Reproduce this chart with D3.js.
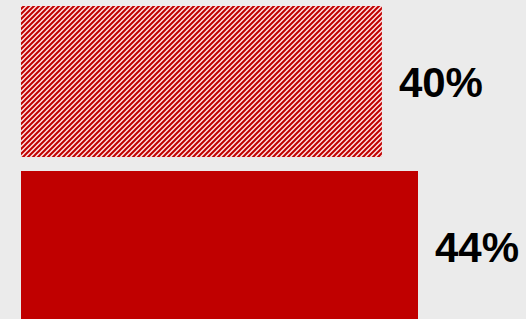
<!DOCTYPE html>
<html>
<head>
<meta charset="utf-8">
<script src="https://cdn.jsdelivr.net/npm/d3@7"></script>
<style>
  html, body { margin: 0; padding: 0; background: #ebebeb; overflow: hidden; }
</style>
</head>
<body>
<script>
const categories = ["before", "after"];
const values = [40, 44];
const labels = ["40%", "44%"];
const hatched = [true, false];

const width = 526, height = 319;

const svg = d3.select("body").append("svg")
    .attr("width", width)
    .attr("height", height);

svg.append("rect")
    .attr("width", width)
    .attr("height", height)
    .attr("fill", "#ebebeb");

// diagonal hatch for the first bar
const pat = svg.append("defs").append("pattern")
    .attr("id", "hatch")
    .attr("patternUnits", "userSpaceOnUse")
    .attr("width", 5)
    .attr("height", 5);
pat.append("rect").attr("width", 5).attr("height", 5).attr("fill", "#fde0e0");
pat.append("path")
    .attr("d", "M-1,1 l2,-2 M0,5 l5,-5 M4,6 l2,-2")
    .attr("stroke", "#c00000")
    .attr("stroke-width", 2);

const x = d3.scaleLinear().domain([0, 44]).range([21, 418]);
const y = d3.scaleBand().domain(categories).range([6, 322]).paddingInner(14 / 165);

const g = svg.append("g");

g.selectAll("rect.bar")
    .data(categories)
    .enter().append("rect")
    .attr("class", "bar")
    .attr("x", x(0))
    .attr("y", d => y(d))
    .attr("width", (d, i) => x(values[i]) - x(0))
    .attr("height", y.bandwidth())
    .attr("fill", (d, i) => hatched[i] ? "url(#hatch)" : "#c00000");

g.selectAll("text.lbl")
    .data(categories)
    .enter().append("text")
    .attr("class", "lbl")
    .attr("x", (d, i) => x(values[i]) + 17)
    .attr("y", d => y(d) + y.bandwidth() / 2)
    .attr("dy", "0.36em")
    .attr("font-family", "Liberation Sans, Arial, sans-serif")
    .attr("font-weight", "bold")
    .attr("font-size", 42)
    .attr("fill", "#000")
    .text((d, i) => labels[i]);
</script>
</body>
</html>
